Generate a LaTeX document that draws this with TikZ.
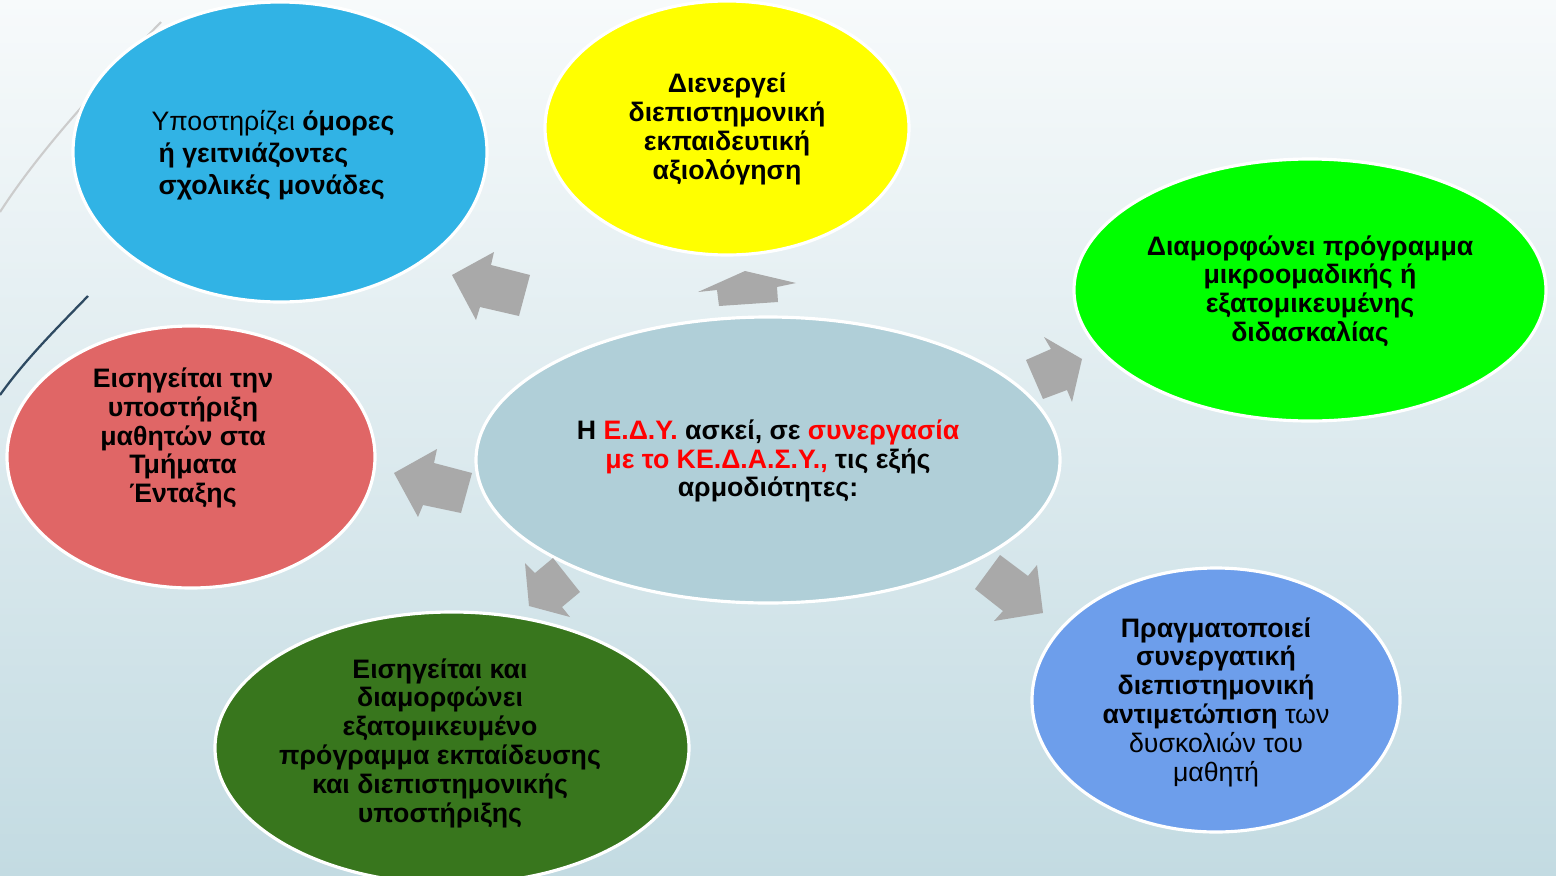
\documentclass[tikz,border=0pt]{standalone}
\usepackage{fontspec}
\setmainfont{Liberation Sans}
\usetikzlibrary{shapes.geometric}
\definecolor{bgtop}{HTML}{F7FAFB}
\definecolor{bgbot}{HTML}{C3DBE2}
\definecolor{cblue}{HTML}{31B3E5}
\definecolor{cyellow}{HTML}{FFFF00}
\definecolor{cgreen}{HTML}{00FF00}
\definecolor{cred}{HTML}{E06666}
\definecolor{ccenter}{HTML}{B0CFD8}
\definecolor{cdgreen}{HTML}{38761D}
\definecolor{cperi}{HTML}{6D9EEB}
\definecolor{carrow}{HTML}{A9A9A9}
\definecolor{hl}{HTML}{FF0000}
\definecolor{deco}{HTML}{2E4A62}
\tikzset{
  bubble/.style={ellipse, draw=white, line width=1.8pt, inner sep=0pt},
  label/.style={align=center, inner sep=0pt, font=\fontsize{15.2}{16.4}\selectfont\bfseries},
  blockarrow/.style={fill=carrow, draw=none},
}
\begin{document}
\begin{tikzpicture}[x=0.02cm, y=-0.02cm]
\useasboundingbox (0,0) rectangle (1556,876);
\clip (0,0) rectangle (1556,876);
\shade[top color=bgtop, bottom color=bgbot] (0,0) rectangle (1556,876);
% decorative lines
\draw[color=black!20, line width=1.2pt] (161,22) .. controls (100,85) and (40,150) .. (0,212);
\draw[color=deco, line width=1.3pt] (88,296) .. controls (55,330) and (25,360) .. (0,395);

% bubbles
\node[bubble, fill=cblue, minimum width=414*0.02cm, minimum height=300*0.02cm] (e1) at (280,152) {};
\node[bubble, fill=cyellow, minimum width=364*0.02cm, minimum height=254*0.02cm] (e2) at (727,128) {};
\node[bubble, fill=cgreen, minimum width=472*0.02cm, minimum height=262*0.02cm] (e3) at (1310,290) {};
\node[bubble, fill=cred, minimum width=368*0.02cm, minimum height=262*0.02cm] (e4) at (191,457) {};
\node[bubble, fill=ccenter, minimum width=584*0.02cm, minimum height=286*0.02cm] (e0) at (768,460) {};
\node[bubble, fill=cdgreen, minimum width=474*0.02cm, minimum height=272*0.02cm] (e5) at (452,748) {};
\node[bubble, fill=cperi, minimum width=368*0.02cm, minimum height=264*0.02cm] (e6) at (1216,700) {};

% texts
\node[label, align=left, font=\fontsize{15.2}{18.1}\selectfont] (t1) at (273,155)
  {Υποστηρίζει \textbf{όμορες}\\\hspace*{4pt}\textbf{ή γειτνιάζοντες}\\\hspace*{4pt}\textbf{σχολικές μονάδες}};
\node[label] (t2) at (727,129) {Διενεργεί\\διεπιστημονική\\εκπαιδευτική\\αξιολόγηση};
\node[label] (t3) at (1310,291) {Διαμορφώνει πρόγραμμα\\μικροομαδικής ή\\εξατομικευμένης\\διδασκαλίας};
\node[label] (t4) at (183,438) {Εισηγείται την\\υποστήριξη\\μαθητών στα\\Τμήματα\\Ένταξης};
\node[label] (t0) at (768,461) {Η \textcolor{hl}{Ε.Δ.Υ.} ασκεί, σε \textcolor{hl}{συνεργασία}\\\textcolor{hl}{με το ΚΕ.Δ.Α.Σ.Υ.,} τις εξής\\αρμοδιότητες:};
\node[label] (t5) at (440,743) {Εισηγείται και\\διαμορφώνει\\εξατομικευμένο\\πρόγραμμα εκπαίδευσης\\και διεπιστημονικής\\υποστήριξης};
\node[label] (t6) at (1216,702) {Πραγματοποιεί\\συνεργατική\\διεπιστημονική\\αντιμετώπιση \mdseries των\\\mdseries δυσκολιών του\\\mdseries μαθητή};

% block arrows
\fill[blockarrow] (452,275) -- (494,252) -- (491,265) -- (530,275) -- (519,316) -- (480,307) -- (476,320) -- cycle;
\fill[blockarrow] (745,271) -- (796,283) -- (777,287) -- (778,302) -- (719,306) -- (717,290) -- (698,292) -- cycle;
\fill[blockarrow] (1082,359) -- (1072,402) -- (1067,390) -- (1043,399) -- (1026,360) -- (1051,349) -- (1044,337) -- cycle;
\fill[blockarrow] (394,473) -- (437,449) -- (434,463) -- (472,473) -- (461,513) -- (423,505) -- (418,517) -- cycle;
\fill[blockarrow] (529,606) -- (525,563) -- (535,573) -- (553,558) -- (580,592) -- (562,607) -- (570,617) -- cycle;
\fill[blockarrow] (1043,613) -- (1037,565) -- (1028,576) -- (1000,555) -- (975,589) -- (1003,611) -- (994,621) -- cycle;
\end{tikzpicture}
\end{document}
